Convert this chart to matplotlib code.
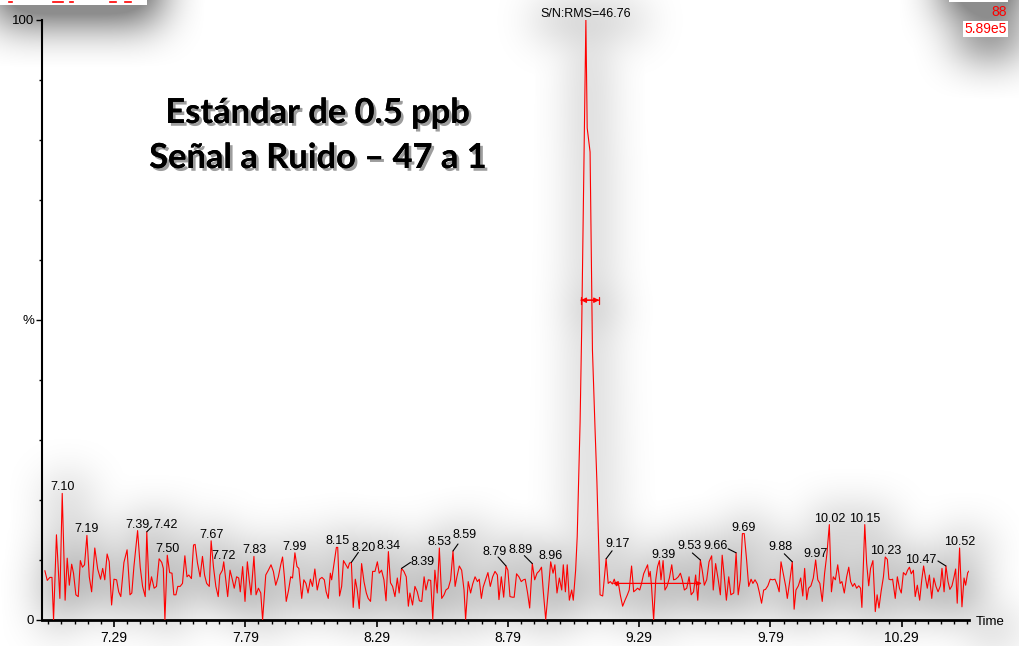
import numpy as np
import matplotlib
matplotlib.use("Agg")
import matplotlib.pyplot as plt
import matplotlib.patheffects as pe
from matplotlib.patches import Rectangle
from matplotlib.lines import Line2D
from matplotlib.ticker import FixedLocator, MultipleLocator

# chromatogram trace: retention time (min) and intensity (% of base peak)
time_min = [
    7.027, 7.036, 7.046, 7.054, 7.060, 7.071, 7.084, 7.093, 7.104, 7.112,
    7.120, 7.129, 7.136, 7.145, 7.154, 7.162, 7.170, 7.178, 7.187, 7.196,
    7.205, 7.217, 7.228, 7.239, 7.247, 7.255, 7.264, 7.272, 7.281, 7.290,
    7.300, 7.308, 7.316, 7.328, 7.340, 7.351, 7.358, 7.366, 7.380, 7.390,
    7.399, 7.409, 7.415, 7.424, 7.433, 7.443, 7.452, 7.462, 7.472, 7.478,
    7.484, 7.493, 7.502, 7.511, 7.518, 7.526, 7.533, 7.542, 7.551, 7.560,
    7.568, 7.575, 7.585, 7.593, 7.599, 7.608, 7.618, 7.627, 7.635, 7.643,
    7.653, 7.660, 7.669, 7.678, 7.687, 7.693, 7.703, 7.708,
    7.723, 7.732, 7.741, 7.748, 7.757, 7.765, 7.771, 7.780, 7.789, 7.798,
    7.805, 7.812, 7.823, 7.831, 7.840, 7.849, 7.856, 7.868, 7.878, 7.888,
    7.897, 7.906, 7.916, 7.925, 7.932, 7.939, 7.946, 7.955, 7.963, 7.970,
    7.979, 7.987, 7.994, 8.005, 8.013, 8.021, 8.029, 8.038, 8.046, 8.055,
    8.064, 8.073, 8.082, 8.091, 8.098, 8.106, 8.114, 8.119, 8.129, 8.137,
    8.142, 8.149, 8.157, 8.164, 8.173, 8.181, 8.187, 8.194, 8.201, 8.209,
    8.216, 8.224, 8.233, 8.242, 8.251, 8.258, 8.267, 8.275, 8.284, 8.293,
    8.300, 8.309, 8.318, 8.326, 8.335, 8.343, 8.351, 8.360, 8.369, 8.376,
    8.385, 8.394, 8.403, 8.411,
    8.417, 8.427, 8.436, 8.445, 8.453, 8.462, 8.471, 8.478, 8.487, 8.496,
    8.504, 8.512, 8.521, 8.529, 8.538, 8.547, 8.554, 8.563, 8.572, 8.581,
    8.589, 8.596, 8.605, 8.614, 8.623, 8.629, 8.639, 8.648, 8.656, 8.665,
    8.674, 8.681, 8.689, 8.696, 8.705, 8.714, 8.723, 8.732, 8.741, 8.750,
    8.756, 8.765, 8.774, 8.783, 8.790, 8.798, 8.807, 8.814, 8.823, 8.832,
    8.841, 8.849, 8.856, 8.865, 8.873, 8.883, 8.892, 8.901, 8.910, 8.918,
    8.925, 8.934, 8.944, 8.953, 8.962, 8.969, 8.977, 8.986, 8.995, 9.001,
    9.009, 9.016, 9.024, 9.033, 9.039, 9.048,
    9.054, 9.065, 9.071, 9.087, 9.092, 9.103, 9.112, 9.122, 9.129, 9.141,
    9.151,
    9.164, 9.172, 9.180, 9.188, 9.195, 9.203, 9.211, 9.218, 9.227, 9.236,
    9.245, 9.252, 9.261, 9.269, 9.277, 9.284, 9.292, 9.299, 9.307, 9.316,
    9.322, 9.327, 9.332, 9.337, 9.345, 9.353, 9.360, 9.367, 9.373, 9.381,
    9.388, 9.396, 9.405, 9.414, 9.421, 9.429, 9.439, 9.447, 9.454, 9.462,
    9.471, 9.480, 9.488, 9.497, 9.505, 9.513, 9.523, 9.530, 9.538, 9.547,
    9.556, 9.566, 9.572, 9.581, 9.591, 9.599, 9.606, 9.614, 9.622, 9.631,
    9.639, 9.650, 9.659, 9.667, 9.675, 9.683, 9.690, 9.699, 9.707, 9.716,
    9.723, 9.731, 9.740, 9.747, 9.756, 9.764, 9.771, 9.780, 9.789, 9.798,
    9.807, 9.816, 9.823, 9.830,
    9.848, 9.854, 9.864, 9.873, 9.880, 9.887, 9.896, 9.905, 9.913, 9.920,
    9.928, 9.935, 9.944, 9.953, 9.962, 9.970, 9.978, 9.987, 9.996, 10.005,
    10.014, 10.022, 10.029, 10.037, 10.046, 10.055, 10.062, 10.071, 10.080, 10.088,
    10.095, 10.103, 10.110, 10.118, 10.126, 10.133, 10.138, 10.149, 10.156, 10.164,
    10.171, 10.180, 10.189, 10.196, 10.203, 10.211, 10.220, 10.227, 10.235, 10.241,
    10.249, 10.255, 10.265, 10.273, 10.281, 10.288, 10.296, 10.305, 10.312, 10.319,
    10.326, 10.334, 10.341, 10.349, 10.358, 10.366, 10.373, 10.381, 10.387, 10.395,
    10.404, 10.412, 10.420, 10.428, 10.437, 10.443, 10.451, 10.458, 10.466, 10.473,
    10.481, 10.489, 10.495, 10.501, 10.510, 10.519, 10.527, 10.533, 10.541, 10.547,
]
signal_pct = [
    8.2, 6.6, 7.1, 7.1, 0.0, 14.2, 3.6, 21.1, 3.3, 10.3,
    5.8, 9.3, 7.8, 4.2, 3.9, 9.9, 8.8, 9.2, 14.1, 7.2,
    4.7, 12.0, 8.5, 6.8, 8.6, 6.7, 11.0, 9.7, 2.5, 6.8,
    6.7, 4.7, 3.9, 9.6, 11.7, 4.2, 4.5, 8.9, 14.9, 8.8,
    5.6, 3.9, 14.7, 5.0, 7.2, 5.3, 5.6, 10.2, 9.6, 8.6,
    0.0, 10.8, 7.9, 7.8, 4.2, 4.2, 5.6, 5.6, 6.1, 10.7,
    7.2, 7.5, 6.9, 12.5, 12.6, 9.5, 7.2, 10.6, 7.5, 6.1,
    5.6, 13.2, 8.8, 5.6, 3.9, 7.5, 8.3, 9.7,
    3.9, 8.3, 6.7, 5.3, 7.2, 7.0, 4.7, 8.9, 3.1, 9.7,
    6.7, 4.2, 10.6, 4.2, 5.3, 4.5, 0.0, 7.5, 8.3, 9.2,
    8.1, 5.8, 7.2, 9.2, 10.5, 7.2, 3.1, 5.0, 7.2, 7.0,
    11.2, 8.9, 8.6, 3.6, 6.7, 6.1, 4.5, 6.8, 5.6, 8.5,
    5.0, 6.8, 7.1, 6.7, 4.7, 3.6, 7.8, 6.7, 9.7, 12.1,
    12.1, 4.0, 5.6, 9.9, 9.2, 8.6, 9.5, 9.6, 2.1, 6.8,
    5.1, 1.9, 9.4, 6.4, 4.5, 3.6, 3.1, 8.1, 8.1, 9.7,
    7.8, 8.3, 6.7, 3.2, 11.4, 6.2, 5.6, 3.9, 7.0, 4.5,
    8.6, 8.1, 7.2, 2.3,
    4.5, 2.5, 5.6, 4.7, 3.2, 3.1, 7.2, 5.0, 6.7, 6.6,
    0.1, 8.3, 4.5, 12.0, 3.6, 4.2, 5.0, 5.3, 6.7, 11.5,
    5.6, 7.2, 9.0, 8.3, 5.0, 0.1, 6.4, 4.5, 6.0, 7.2,
    6.4, 6.8, 3.6, 5.5, 6.7, 7.9, 5.6, 7.2, 8.1, 7.5,
    3.4, 7.2, 3.8, 9.0, 8.3, 3.9, 3.8, 3.8, 7.7, 7.2,
    6.4, 6.7, 6.8, 4.5, 2.0, 9.4, 6.7, 7.8, 8.2, 8.8,
    4.7, 0.1, 5.0, 9.7, 7.8, 9.2, 4.5, 7.0, 5.0, 9.2,
    4.7, 9.2, 3.3, 5.0, 3.3, 8.3,
    13.9, 33.0, 48.4, 100.0, 82.0, 78.0, 45.0, 31.7, 23.0, 4.2,
    4.0,
    10.2, 6.1, 6.4, 6.0, 6.8, 5.7, 6.1, 4.2, 2.3, 3.3,
    4.2, 5.0, 9.0, 4.7, 5.0, 5.3, 5.0, 6.1, 7.7, 8.6,
    9.2, 7.2, 8.1, 5.6, 0.0, 6.7, 8.9, 9.9, 6.7, 9.9,
    5.0, 5.6, 7.0, 9.2, 6.7, 6.8, 7.2, 7.8, 6.7, 5.0,
    5.3, 7.2, 4.2, 4.7, 7.5, 3.3, 10.0, 8.3, 5.8, 6.7,
    9.7, 10.7, 5.0, 9.4, 6.7, 4.2, 10.8, 7.2, 3.3, 7.2,
    4.2, 4.5, 11.2, 4.2, 6.7, 14.4, 14.4, 10.0, 5.6, 6.8,
    6.1, 6.7, 6.0, 4.7, 2.8, 5.0, 5.1, 5.7, 6.8, 6.7,
    6.8, 5.8, 4.7, 9.7,
    5.6, 3.6, 6.7, 9.7, 1.8, 5.0, 5.7, 7.0, 4.0, 8.6,
    3.4, 5.3, 5.7, 7.0, 10.0, 6.7, 6.1, 3.1, 7.8, 11.1,
    15.9, 4.7, 7.2, 6.7, 9.2, 6.1, 6.4, 4.5, 7.2, 8.8,
    6.4, 5.6, 6.1, 5.3, 5.7, 5.3, 2.1, 15.9, 9.5, 5.7,
    8.6, 9.9, 1.4, 4.2, 2.0, 4.7, 7.2, 10.5, 10.1, 6.8,
    6.7, 6.8, 3.6, 7.2, 5.3, 4.5, 7.9, 7.5, 8.3, 8.8,
    7.7, 8.3, 3.9, 5.8, 3.3, 6.7, 9.0, 6.8, 5.3, 7.5,
    3.6, 7.0, 5.6, 4.7, 5.7, 8.6, 4.7, 9.0, 6.4, 5.1,
    5.7, 7.2, 8.5, 2.8, 12.0, 2.2, 7.0, 5.8, 7.9, 8.2,
]

# peak-apex labels written by the software
peak_labels = ["7.10", "7.19", "7.39", "7.42", "7.50", "7.67", "7.72", "7.83",
               "7.99", "8.15", "8.20", "8.34", "8.39", "8.53", "8.59", "8.79",
               "8.89", "8.96", "9.17", "9.39", "9.53", "9.66", "9.69", "9.88",
               "9.97", "10.02", "10.15", "10.23", "10.47", "10.52"]
peak_label_time = [7.093, 7.187, 7.380, 7.415, 7.493, 7.660, 7.708, 7.823,
                   7.979, 8.140, 8.194, 8.335, 8.385, 8.529, 8.581, 8.783,
                   8.883, 8.953, 9.164, 9.381, 9.523, 9.659, 9.687, 9.873,
                   9.962, 10.014, 10.149, 10.227, 10.458, 10.510]
peak_label_pct = [21.1, 14.1, 14.9, 14.7, 10.8, 13.2, 9.7, 10.6,
                  11.2, 12.1, 9.6, 11.4, 8.6, 12.0, 11.5, 9.0,
                  9.4, 9.7, 10.2, 9.9, 10.0, 11.2, 14.4, 9.7,
                  10.0, 15.9, 15.9, 10.5, 9.0, 12.0]

sn_label = "S/N:RMS=46.76"
apex_time, apex_pct = 9.087, 100.0
width_time = [9.068, 9.138]      # peak width marker
width_pct = 53.3
noise_time = [9.188, 9.530]      # noise window
noise_pct = 6.1

x_major = [7.29, 7.79, 8.29, 8.79, 9.29, 9.79, 10.29]

# labels moved beside their apex: text offset and leader end, in pixels
leader_offsets = {
    "7.42": (19, 4, 5, 5), "8.20": (12, 11, 7, 10), "8.39": (21, 3, 9, 6),
    "8.59": (12, 13, 5, 7), "8.79": (-11, 11, -8, 9), "8.89": (-12, 11, -8, 8),
    "9.17": (11, 12, 6, 8), "9.53": (-11, 11, -8, 7), "9.66": (-21, 4, -8, 4),
    "9.88": (-12, 12, -8, 8), "10.47": (-25, 3, -8, 5),
}

W, H = 1019, 646
FONT = "Liberation Sans"

fig = plt.figure(figsize=(W / 100, H / 100), dpi=100)
ax = fig.add_axes([42 / W, 26 / H, 927.3 / W, 600 / H])
ax.set_facecolor("none")

ax.plot(time_min, signal_pct, color="#ff0000", lw=0.8, zorder=3)

for lab, t, p in zip(peak_labels, peak_label_time, peak_label_pct):
    dx, dy, lx, ly = leader_offsets.get(lab, (0, 3, 0, 0))
    ax.annotate(lab, (t, p), xytext=(dx, dy), textcoords="offset pixels",
                ha="center", va="baseline", fontsize=9, family=FONT)
    if lx or ly:
        ax.annotate("", (t, p), xytext=(lx, ly), textcoords="offset pixels",
                    arrowprops=dict(arrowstyle="-", color="black", lw=0.8,
                                    shrinkA=0, shrinkB=0))

ax.annotate(sn_label, (apex_time, apex_pct), xytext=(0, 3),
            textcoords="offset pixels", ha="center", va="baseline",
            fontsize=9, family=FONT, annotation_clip=False)

# peak width and noise window markers
ax.annotate("", xy=(width_time[0], width_pct), xytext=(width_time[1], width_pct),
            arrowprops=dict(arrowstyle="|-|,widthA=0.25,widthB=0.25", color="red",
                            lw=0.9, shrinkA=0, shrinkB=0))
ax.annotate("", xy=(width_time[0], width_pct), xytext=(width_time[1], width_pct),
            arrowprops=dict(arrowstyle="<|-|>,head_length=0.3,head_width=0.15",
                            color="red", lw=0.9, shrinkA=0, shrinkB=0))
ax.annotate("", xy=(noise_time[0], noise_pct), xytext=(noise_time[1], noise_pct),
            arrowprops=dict(arrowstyle="<|-|>,head_length=0.3,head_width=0.12",
                            color="red", lw=0.9, shrinkA=0, shrinkB=0))

ax.set_xlim(7.016, 10.547)
ax.set_ylim(0, 100)
for s in ["top", "right"]:
    ax.spines[s].set_visible(False)
ax.spines["left"].set_linewidth(1.5)
ax.spines["bottom"].set_linewidth(2.0)

ax.xaxis.set_major_locator(FixedLocator(x_major))
ax.xaxis.set_minor_locator(FixedLocator(np.arange(7.04, 10.55, 0.05)))
ax.set_xticklabels([f"{v:.2f}" for v in x_major], family=FONT, fontsize=10)
ax.set_yticks([0, 50, 100])
ax.set_yticklabels(["0", "%", "100"], family=FONT, fontsize=9.5)
ax.yaxis.set_minor_locator(MultipleLocator(10))
ax.tick_params(axis="x", which="major", length=5, width=1.2, pad=3)
ax.tick_params(axis="x", which="minor", length=3, width=1)
ax.tick_params(axis="y", which="major", length=4.5, width=1, pad=1)
ax.tick_params(axis="y", which="minor", length=2.5, width=1)

fig.text(990 / W, 1 - 622 / H, "Time", ha="center", va="center",
         fontsize=9.5, family=FONT)

# cut-off header boxes of the original screenshot
fig.add_artist(Rectangle((0, 1 - 5 / H), 147 / W, 5 / H, transform=fig.transFigure,
                         facecolor="white", edgecolor="none"))
for x0, x1 in [(9, 12), (53, 63), (70, 73), (110, 116), (125, 131)]:
    fig.add_artist(Line2D([x0 / W, x1 / W], [1 - 1.5 / H, 1 - 1.5 / H],
                          color="red", lw=1.2, transform=fig.transFigure))
fig.add_artist(Rectangle((949 / W, 1 - 2 / H), 59 / W, 2 / H, transform=fig.transFigure,
                         facecolor="white", edgecolor="none"))
fig.text(1007 / W, 1 - 12 / H, "88", color="red", ha="right", va="center",
         fontsize=10, family=FONT)
fig.text(1007 / W, 1 - 29 / H, "5.89e5", color="red", ha="right", va="center",
         fontsize=10, family=FONT,
         bbox=dict(facecolor="white", edgecolor="none", pad=1))


def soft_shadow(alpha, sigma=18, dx=4, dy=8, top_pad=150, pad=80):
    m = np.pad(alpha, ((top_pad, 0), (0, 0)), mode="edge")
    m = np.pad(m, pad)
    r = int(3 * sigma)
    k = np.exp(-0.5 * (np.arange(-r, r + 1) / sigma) ** 2)
    k /= k.sum()
    m = np.apply_along_axis(np.convolve, 1, m, k, mode="same")
    m = np.apply_along_axis(np.convolve, 0, m, k, mode="same")
    y0 = top_pad + pad - dy
    x0 = pad - dx
    return m[y0:y0 + alpha.shape[0], x0:x0 + alpha.shape[1]]


# render once without background / axes to get the shadow mask
for s in ["left", "bottom"]:
    ax.spines[s].set_visible(False)
ax.xaxis.set_visible(False)
ax.yaxis.set_visible(False)
fig.patch.set_alpha(0)
fig.canvas.draw()
mask = np.asarray(fig.canvas.buffer_rgba())[..., 3].astype(float) / 255.0
for s in ["left", "bottom"]:
    ax.spines[s].set_visible(True)
ax.xaxis.set_visible(True)
ax.yaxis.set_visible(True)
fig.patch.set_alpha(1)
fig.patch.set_facecolor("white")

blur = np.clip(soft_shadow(mask), 0, 1)
shadow = np.zeros(blur.shape + (4,))
shadow[..., 3] = np.clip(0.7 * blur ** 0.6, 0, 0.45)
fig.figimage(shadow, xo=0, yo=0, origin="upper", zorder=-1)

# title box text with its own drop shadow
title_fx = [pe.withSimplePatchShadow(offset=(2, -2), shadow_rgbFace="0.15", alpha=0.45),
            pe.Normal()]
fig.text(318 / W, 1 - 113 / H, "Estándar de 0.5 ppb", ha="center", va="center",
         fontsize=24.8, fontweight="bold", family="Lato", path_effects=title_fx)
fig.text(318 / W, 1 - 158 / H, "Señal a Ruido – 47 a 1", ha="center", va="center",
         fontsize=24.8, fontweight="bold", family="Lato", path_effects=title_fx)

fig.savefig("out.png", dpi=100)
